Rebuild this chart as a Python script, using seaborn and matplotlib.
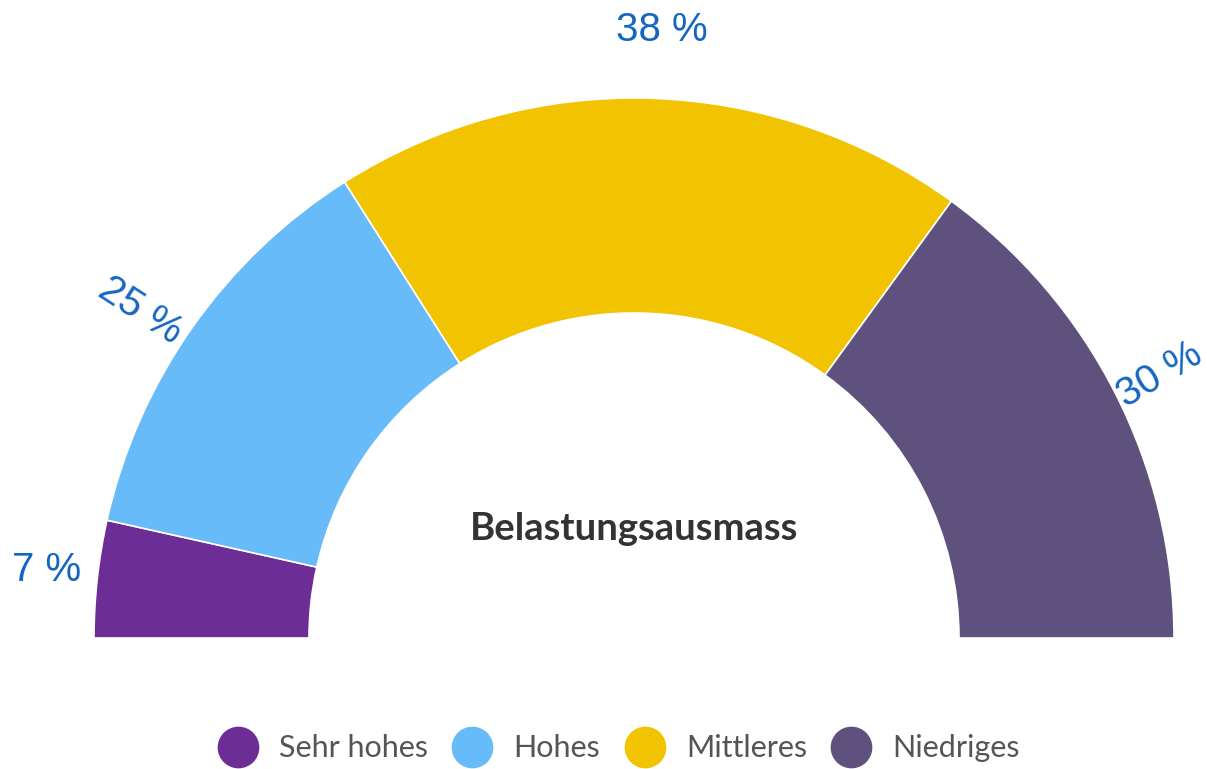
import matplotlib
matplotlib.use("Agg")
import matplotlib.pyplot as plt
from matplotlib.lines import Line2D
import seaborn as sns

# Daten
kategorien = ["Sehr hohes", "Hohes", "Mittleres", "Niedriges"]
anteile = [7, 25, 38, 30]
label_texte = ["7 %", "25 %", "38 %", "30 %"]
farben = ["#6C2E96", "#66BBF8", "#F2C300", "#5E517D"]
titel = "Belastungsausmass"

sns.set_theme(style="white")
plt.rcParams["font.family"] = ["Liberation Sans", "DejaVu Sans"]

fig = plt.figure(figsize=(12.07, 7.69), dpi=100)
ax = fig.add_axes([0, 0, 1, 1])

# Halbkreis: unsichtbarer Rest von 100 % fuer die untere Haelfte
werte = anteile + [sum(anteile)]
wedges, _ = ax.pie(werte, colors=farben + ["none"], startangle=180,
                   counterclock=False, radius=540, center=(634, 131),
                   wedgeprops=dict(width=215, edgecolor="white", linewidth=1.2))
wedges[-1].set_edgecolor("none")

ax.set_xlim(0, 1207)
ax.set_ylim(0, 769)
ax.set_aspect("equal")
ax.axis("off")

# Prozentangaben
blau = "#1466C2"
pos = [(47, 199), (140, 458), (662, 739), (1160, 394)]
rot = [0, -33, 0, 31]
for txt, (x, y), r in zip(label_texte, pos, rot):
    ax.text(x, y, txt, fontsize=29, color=blau, ha="center", va="center",
            rotation=r, rotation_mode="anchor")

ax.text(634, 240, titel, fontsize=27.5, fontweight="bold", color="#333333",
        ha="center", va="center", family=["Lato", "DejaVu Sans"])

handles = [Line2D([0], [0], marker="o", linestyle="none", markersize=29,
                  markerfacecolor=c, markeredgecolor=c) for c in farben]
leg = ax.legend(handles, kategorien, loc="center", bbox_to_anchor=(0.514, 0.027),
                ncol=4, frameon=False, handletextpad=0.8,
                columnspacing=0.9, handlelength=1.1,
                prop={"family": ["Lato", "DejaVu Sans"], "size": 22})
for t in leg.get_texts():
    t.set_color("#555555")

fig.savefig("out.png", dpi=100)
